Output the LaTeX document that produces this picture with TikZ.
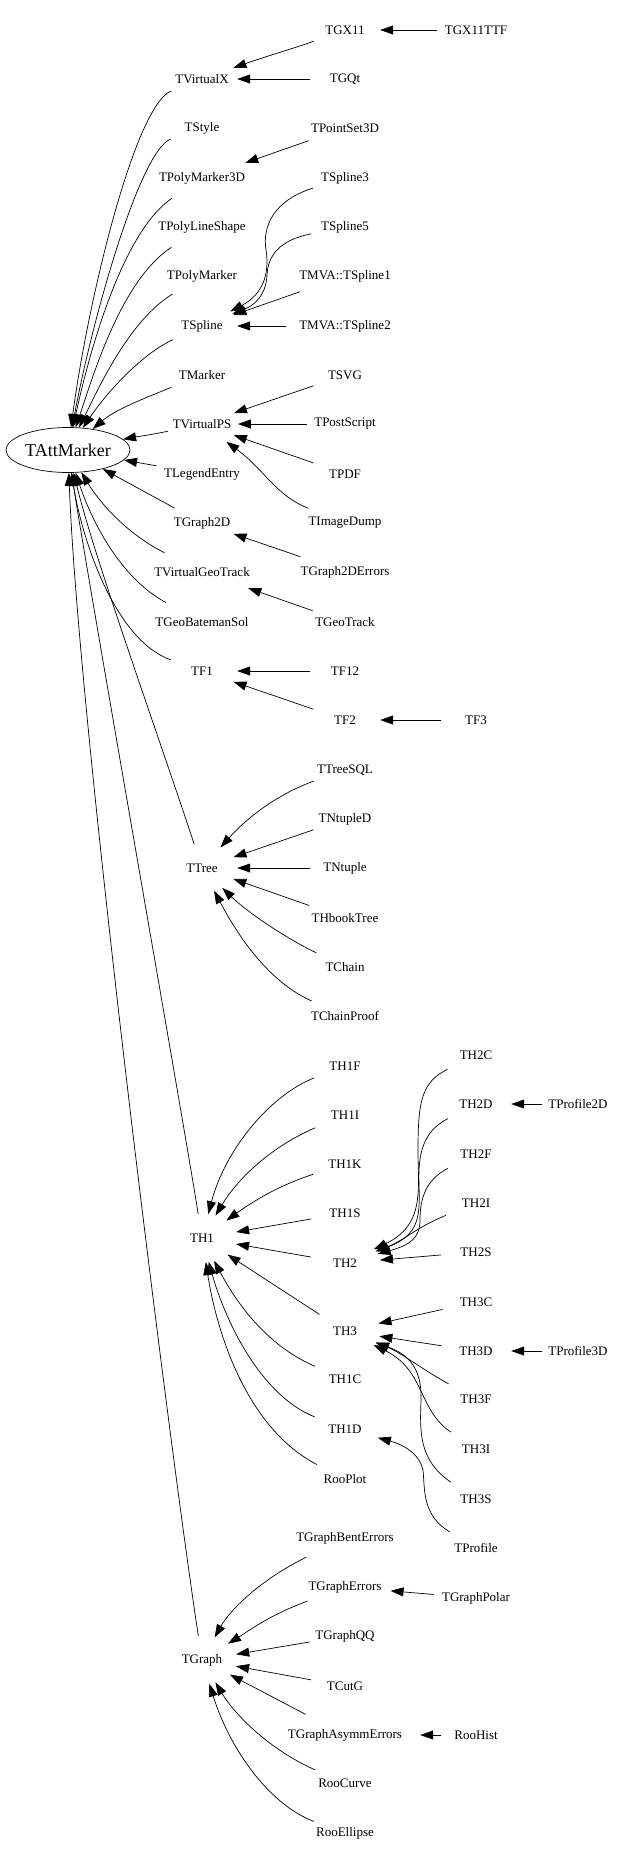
\documentclass[tikz,border=0pt]{standalone}
\usepackage{fontspec}
\setmainfont{Liberation Serif}
\usetikzlibrary{shapes.geometric,arrows.meta}

\tikzset{
  cls/.style={ellipse, inner xsep=-4pt, inner ysep=0pt, minimum width=70pt, minimum height=48pt, font=\fontsize{13}{15}\selectfont},
  root/.style={ellipse, draw, line width=0.7pt, inner sep=0pt, minimum width=124pt, minimum height=45pt, font=\fontsize{18}{20}\selectfont},
  inh/.style={-{Triangle[length=13pt,width=9pt]}, line width=0.7pt}
}

\begin{document}
\begin{tikzpicture}[x=1pt, y=-1pt]
		\useasboundingbox (0,0) rectangle (619,1863);

		% Base class
		\node[root] (TAttMarker) at (68,450) {TAttMarker};

		% First column
		\node[cls] (TVirtualX) at (202,79) {TVirtualX};
		\node[cls] (TStyle) at (202,128) {TStyle};
		\node[cls] (TPolyMarker3D) at (202,178) {TPolyMarker3D};
		\node[cls] (TPolyLineShape) at (202,227) {TPolyLineShape};
		\node[cls] (TPolyMarker) at (202,276) {TPolyMarker};
		\node[cls] (TSpline) at (202,326) {TSpline};
		\node[cls] (TMarker) at (202,375) {TMarker};
		\node[cls] (TVirtualPS) at (202,424) {TVirtualPS};
		\node[cls] (TLegendEntry) at (202,474) {TLegendEntry};
		\node[cls] (TGraph2D) at (202,523) {TGraph2D};
		\node[cls] (TVirtualGeoTrack) at (202,572) {TVirtualGeoTrack};
		\node[cls] (TGeoBatemanSol) at (202,622) {TGeoBatemanSol};
		\node[cls] (TF1) at (202,671) {TF1};
		\node[cls] (TTree) at (202,868) {TTree};
		\node[cls] (TH1) at (202,1238) {TH1};
		\node[cls] (TGraph) at (202,1660) {TGraph};

		% Second column
		\node[cls] (TGX11) at (345,30) {TGX11};
		\node[cls] (TGQt) at (345,79) {TGQt};
		\node[cls] (TPointSet3D) at (345,128) {TPointSet3D};
		\node[cls] (TSpline3) at (345,178) {TSpline3};
		\node[cls] (TSpline5) at (345,227) {TSpline5};
		\node[cls] (TMVASpline1) at (345,276) {TMVA::TSpline1};
		\node[cls] (TMVASpline2) at (345,326) {TMVA::TSpline2};
		\node[cls] (TSVG) at (345,375) {TSVG};
		\node[cls] (TPostScript) at (345,424) {TPostScript};
		\node[cls] (TPDF) at (345,474) {TPDF};
		\node[cls] (TImageDump) at (345,523) {TImageDump};
		\node[cls] (TGraph2DErrors) at (345,572) {TGraph2DErrors};
		\node[cls] (TGeoTrack) at (345,622) {TGeoTrack};
		\node[cls] (TF12) at (345,671) {TF12};
		\node[cls] (TF2) at (345,720) {TF2};
		\node[cls] (TTreeSQL) at (345,770) {TTreeSQL};
		\node[cls] (TNtupleD) at (345,819) {TNtupleD};
		\node[cls] (TNtuple) at (345,868) {TNtuple};
		\node[cls] (THbookTree) at (345,918) {THbookTree};
		\node[cls] (TChain) at (345,967) {TChain};
		\node[cls] (TChainProof) at (345,1016) {TChainProof};
		\node[cls] (TH1F) at (345,1066) {TH1F};
		\node[cls] (TH1I) at (345,1115) {TH1I};
		\node[cls] (TH1K) at (345,1164) {TH1K};
		\node[cls] (TH1S) at (345,1213) {TH1S};
		\node[cls] (TH2) at (345,1263) {TH2};
		\node[cls] (TH3) at (345,1331) {TH3};
		\node[cls] (TH1C) at (345,1379) {TH1C};
		\node[cls] (TH1D) at (345,1429) {TH1D};
		\node[cls] (RooPlot) at (345,1479) {RooPlot};
		\node[cls] (TGraphBentErrors) at (345,1538) {TGraphBentErrors};
		\node[cls] (TGraphErrors) at (345,1587) {TGraphErrors};
		\node[cls] (TGraphQQ) at (345,1636) {TGraphQQ};
		\node[cls] (TCutG) at (345,1686) {TCutG};
		\node[cls] (TGraphAsymmErrors) at (345,1735) {TGraphAsymmErrors};
		\node[cls] (RooCurve) at (345,1783) {RooCurve};
		\node[cls] (RooEllipse) at (345,1833) {RooEllipse};

		% Third and fourth column
		\node[cls] (TGX11TTF) at (476,30) {TGX11TTF};
		\node[cls] (TF3) at (476,720) {TF3};
		\node[cls] (TH2C) at (476,1055) {TH2C};
		\node[cls] (TH2D) at (476,1104) {TH2D};
		\node[cls] (TH2F) at (476,1154) {TH2F};
		\node[cls] (TH2I) at (476,1203) {TH2I};
		\node[cls] (TH2S) at (476,1252) {TH2S};
		\node[cls] (TH3C) at (476,1302) {TH3C};
		\node[cls] (TH3D) at (476,1351) {TH3D};
		\node[cls] (TH3F) at (476,1399) {TH3F};
		\node[cls] (TH3I) at (476,1449) {TH3I};
		\node[cls] (TH3S) at (476,1499) {TH3S};
		\node[cls] (TProfile) at (476,1548) {TProfile};
		\node[cls] (TGraphPolar) at (476,1598) {TGraphPolar};
		\node[cls] (RooHist) at (476,1735) {RooHist};
		\node[cls] (TProfile2D) at (578,1104) {TProfile2D};
		\node[cls] (TProfile3D) at (578,1351) {TProfile3D};

		% Edges into TAttMarker
		\draw[inh] (TVirtualX) .. controls (135,105) and (88,300) .. (TAttMarker);
		\draw[inh] (TStyle) .. controls (140,150) and (92,320) .. (TAttMarker);
		\draw[inh] (TPolyMarker3D) .. controls (125,230) and (92,340) .. (TAttMarker);
		\draw[inh] (TPolyLineShape) .. controls (122,280) and (95,370) .. (TAttMarker);
		\draw[inh] (TPolyMarker) .. controls (130,320) and (100,385) .. (TAttMarker);
		\draw[inh] (TSpline) .. controls (140,355) and (105,395) .. (TAttMarker);
		\draw[inh] (TMarker) .. controls (140,400) and (115,410) .. (TAttMarker);
		\draw[inh] (TVirtualPS) .. controls (150,435) and (135,437) .. (TAttMarker);
		\draw[inh] (TLegendEntry) -- (TAttMarker);
		\draw[inh] (TGraph2D) -- (TAttMarker);
		\draw[inh] (TVirtualGeoTrack) .. controls (120,530) and (95,495) .. (TAttMarker);
		\draw[inh] (TGeoBatemanSol) .. controls (115,575) and (88,510) .. (TAttMarker);
		\draw[inh] (TF1) .. controls (115,640) and (82,540) .. (TAttMarker);
		\draw[inh] (TTree) .. controls (160,740) and (95,560) .. (TAttMarker);
		\draw[inh] (TH1) .. controls (185,1130) and (88,580) .. (TAttMarker);
		\draw[inh] (TGraph) .. controls (170,1450) and (78,720) .. (TAttMarker);

		% Upper branches
		\draw[inh] (TGX11) .. controls (295,48) and (270,55) .. (TVirtualX);
		\draw[inh] (TGX11TTF) -- (TGX11);
		\draw[inh] (TGQt) -- (TVirtualX);
		\draw[inh] (TPointSet3D) -- (TPolyMarker3D);
		\draw[inh] (TSpline3) .. controls (275,200) and (262,225) .. (266,250) .. controls (270,275) and (262,295) .. (TSpline);
		\draw[inh] (TSpline5) .. controls (280,240) and (268,255) .. (267,275) .. controls (266,295) and (255,305) .. (TSpline);
		\draw[inh] (TMVASpline1) -- (TSpline);
		\draw[inh] (TMVASpline2) -- (TSpline);
		\draw[inh] (TSVG) -- (TVirtualPS);
		\draw[inh] (TPostScript) -- (TVirtualPS);
		\draw[inh] (TPDF) -- (TVirtualPS);
		\draw[inh] (TImageDump) .. controls (275,495) and (265,470) .. (TVirtualPS);
		\draw[inh] (TGraph2DErrors) -- (TGraph2D);
		\draw[inh] (TGeoTrack) -- (TVirtualGeoTrack);
		\draw[inh] (TF12) -- (TF1);
		\draw[inh] (TF2) -- (TF1);
		\draw[inh] (TF3) -- (TF2);

		% TTree branch
		\draw[inh] (TTreeSQL) .. controls (275,795) and (245,820) .. (TTree);
		\draw[inh] (TNtupleD) -- (TTree);
		\draw[inh] (TNtuple) -- (TTree);
		\draw[inh] (THbookTree) -- (TTree);
		\draw[inh] (TChain) .. controls (280,935) and (245,910) .. (TTree);
		\draw[inh] (TChainProof) .. controls (265,980) and (235,930) .. (TTree);

		% TH1 branch
		\draw[inh] (TH1F) .. controls (270,1095) and (225,1150) .. (TH1);
		\draw[inh] (TH1I) .. controls (275,1145) and (240,1175) .. (TH1);
		\draw[inh] (TH1K) .. controls (280,1185) and (255,1200) .. (TH1);
		\draw[inh] (TH1S) -- (TH1);
		\draw[inh] (TH2) -- (TH1);
		\draw[inh] (TH3) -- (TH1);
		\draw[inh] (TH1C) .. controls (265,1345) and (235,1300) .. (TH1);
		\draw[inh] (TH1D) .. controls (260,1395) and (225,1320) .. (TH1);
		\draw[inh] (RooPlot) .. controls (250,1430) and (218,1340) .. (TH1);

		% TH2 and TH3
		\draw[inh] (TH2C) .. controls (422,1082) and (418,1100) .. (418,1150) .. controls (418,1190) and (425,1225) .. (TH2);
		\draw[inh] (TH2D) .. controls (422,1132) and (418,1155) .. (419,1185) .. controls (420,1215) and (420,1235) .. (TH2);
		\draw[inh] (TH2F) .. controls (425,1180) and (420,1200) .. (420,1220) .. controls (420,1238) and (410,1245) .. (TH2);
		\draw[inh] (TH2I) .. controls (415,1228) and (405,1240) .. (TH2);
		\draw[inh] (TH2S) -- (TH2);
		\draw[inh] (TProfile2D) -- (TH2D);
		\draw[inh] (TH3C) -- (TH3);
		\draw[inh] (TH3D) -- (TH3);
		\draw[inh] (TH3F) .. controls (420,1368) and (400,1352) .. (TH3);
		\draw[inh] (TH3I) .. controls (418,1410) and (425,1370) .. (TH3);
		\draw[inh] (TH3S) .. controls (418,1460) and (420,1430) .. (421,1400) .. controls (422,1370) and (410,1355) .. (TH3);
		\draw[inh] (TProfile3D) -- (TH3D);
		\draw[inh] (TProfile) .. controls (422,1515) and (425,1490) .. (423,1470) .. controls (420,1455) and (405,1445) .. (TH1D);

		% TGraph branch
		\draw[inh] (TGraphBentErrors) .. controls (260,1580) and (230,1610) .. (TGraph);
		\draw[inh] (TGraphErrors) .. controls (270,1615) and (250,1630) .. (TGraph);
		\draw[inh] (TGraphQQ) -- (TGraph);
		\draw[inh] (TCutG) -- (TGraph);
		\draw[inh] (TGraphAsymmErrors) -- (TGraph);
		\draw[inh] (RooCurve) .. controls (270,1750) and (235,1715) .. (TGraph);
		\draw[inh] (RooEllipse) .. controls (270,1805) and (230,1750) .. (TGraph);
		\draw[inh] (TGraphPolar) -- (TGraphErrors);
		\draw[inh] (RooHist) -- (TGraphAsymmErrors);
	\end{tikzpicture}
\end{document}
